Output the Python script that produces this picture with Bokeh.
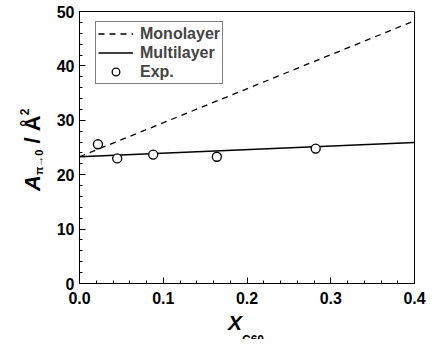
from bokeh.plotting import figure
from bokeh.models import Range1d, Legend, LegendItem, FixedTicker, Div
from bokeh.layouts import row, column
from bokeh.embed import file_html
from bokeh.resources import INLINE

# ---- data ----
x_line = [0.0, 0.4]
mono_y = [23.3, 48.3]
multi_y = [23.3, 25.9]
exp_x = [0.022, 0.045, 0.088, 0.164, 0.282]
exp_y = [25.6, 23.0, 23.7, 23.3, 24.8]
x_ticks = [0.0, 0.1, 0.2, 0.3, 0.4]
y_ticks = [0, 10, 20, 30, 40, 50]

FONT = "Liberation Sans"

p = figure(width=378, height=312, output_backend="svg", toolbar_location=None,
           x_range=Range1d(0, 0.4), y_range=Range1d(0, 50),
           min_border_left=31, min_border_right=12, min_border_top=11, min_border_bottom=29)
p.grid.visible = False
p.outline_line_color = "black"
p.outline_line_width = 1
p.background_fill_color = "white"
p.border_fill_color = "white"

for ax in (p.xaxis[0], p.yaxis[0]):
    ax.axis_line_color = "black"
    ax.major_tick_line_color = "black"
    ax.minor_tick_line_color = "black"
    ax.major_tick_in = 6
    ax.major_tick_out = 0
    ax.minor_tick_in = 3
    ax.minor_tick_out = 0
    ax.major_label_text_font = FONT
    ax.major_label_text_font_style = "bold"
    ax.major_label_text_font_size = "16px"
    ax.major_label_text_color = "black"

p.xaxis.ticker = FixedTicker(ticks=x_ticks, minor_ticks=[i * 0.02 for i in range(21)])
p.yaxis.ticker = FixedTicker(ticks=y_ticks, minor_ticks=list(range(0, 51, 2)))
p.xaxis.major_label_overrides = {t: f"{t:.1f}" for t in x_ticks}
p.xaxis.major_label_standoff = 8
p.yaxis.major_label_standoff = 5

r_mono = p.line(x_line, mono_y, line_color="black", line_width=1.3, line_dash="6 5")
r_multi = p.line(x_line, multi_y, line_color="black", line_width=1.5)
r_exp = p.scatter(exp_x, exp_y, marker="circle", size=9, fill_color="white",
                  line_color="black", line_width=1.3)

legend = Legend(items=[LegendItem(label="Monolayer", renderers=[r_mono]),
                       LegendItem(label="Multilayer", renderers=[r_multi]),
                       LegendItem(label="Exp.", renderers=[r_exp])],
                location=(16, 199), padding=2, spacing=0, margin=0,
                glyph_width=35, glyph_height=19, label_height=19, label_standoff=7,
                label_text_font=FONT, label_text_font_style="bold",
                label_text_font_size="16px", border_line_color="black",
                border_line_width=1, background_fill_alpha=1)
p.add_layout(legend, "center")

# ---- axis titles as real (HTML) text ----
base = "font-family:'Liberation Sans';font-weight:bold;color:black;white-space:nowrap;"
y_html = (
    '<div style="position:relative;width:48px;height:312px;overflow:visible;">'
    '<div style="position:absolute;left:14px;top:191px;transform-origin:0 0;'
    'transform:rotate(-90deg);line-height:22px;font-size:22px;' + base + '">'
    '<i>A</i><span style="font-size:11px;vertical-align:-3px;">π→0</span>'
    ' / Å<span style="font-size:12px;vertical-align:11px;">2</span>'
    '</div></div>'
)
x_html = (
    '<div style="position:relative;width:426px;height:27px;overflow:hidden;">'
    '<div style="position:absolute;left:228px;top:0px;line-height:21px;font-size:21px;'
    + base + '">'
    '<i>X</i><span style="font-size:12px;vertical-align:-14px;">C60</span>'
    '</div></div>'
)
ydiv = Div(text=y_html, width=48, height=312, margin=0)
xdiv = Div(text=x_html, width=426, height=27, margin=0)

layout = column(row(ydiv, p, spacing=0), xdiv, spacing=0)

open("out.html", "w").write(file_html(layout, INLINE))
